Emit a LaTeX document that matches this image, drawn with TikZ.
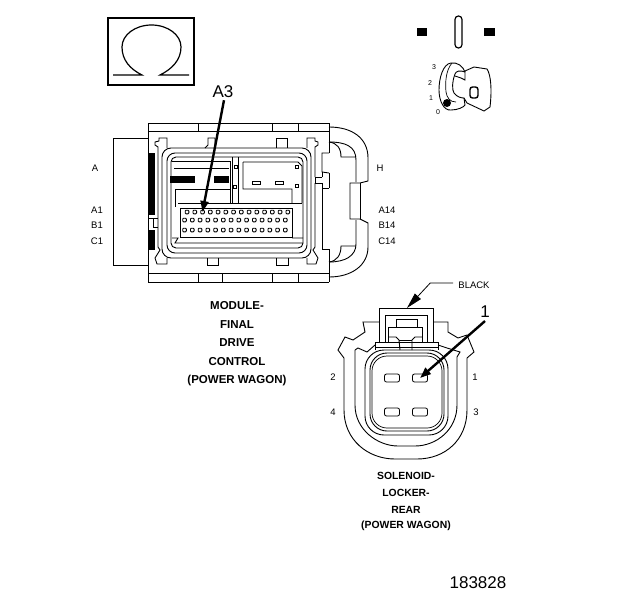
\documentclass[tikz,border=0pt]{standalone}
\usepackage{fontspec}
\setmainfont{Liberation Sans}
\usetikzlibrary{arrows.meta,positioning}

\begin{document}
\begin{tikzpicture}[
    x=1pt, y=-1pt,
    line/.style={draw, line width=0.9pt},
    thin line/.style={draw, line width=0.7pt},
    solid part/.style={fill=black, draw=none},
    pin label/.style={font=\fontsize{9.5}{11}\selectfont, inner sep=0pt},
    key label/.style={font=\fontsize{7}{8}\selectfont, inner sep=0pt},
    callout/.style={font=\fontsize{17}{19}\selectfont, inner sep=0pt},
    caption/.style={font=\fontsize{11.5}{13}\selectfont\bfseries, inner sep=0pt},
    small caption/.style={font=\fontsize{10.4}{12}\selectfont\bfseries, inner sep=0pt},
    pointer/.style={line width=2.4pt, -{Triangle[length=11pt,width=8pt]}},
    leader/.style={line width=0.8pt, -{Triangle[length=16pt,width=8pt]}},
    module pin/.style={draw, line width=0.9pt, rounded corners=0.8pt, minimum width=3.6pt, minimum height=3.6pt, inner sep=0pt},
    solenoid pin/.style={draw, line width=0.8pt, rounded corners=2pt, minimum width=15pt, minimum height=8pt, inner sep=0pt}
]
\useasboundingbox (0,0) rectangle (624,600);

% Ohm symbol box
\draw[line width=2pt] (108,18) rectangle (194,85);
\draw[line width=1.2pt] (113,75) -- (142,75) .. controls (130,69) and (122,60) .. (122,47)
    arc[start angle=180, end angle=360, x radius=29.5, y radius=22]
    .. controls (181,60) and (172,69) .. (160,75) -- (189,75);

% Key symbol
\fill[solid part] (417,28) rectangle (427,36);
\fill[solid part] (484,28) rectangle (495,36);
\draw[line width=1.2pt, rounded corners=3.4pt] (455,16) rectangle (462,48);
\draw[line] (465,72) .. controls (463,66) and (457,62) .. (451,63)
    .. controls (443,64) and (439,78) .. (439,90)
    .. controls (439,101) and (444,111) .. (451,110)
    .. controls (458,110) and (464,107) .. (465,105);
\draw[thin line] (452,63) .. controls (446,70) and (445,82) .. (446,92)
    .. controls (447,98) and (450,102) .. (456,102);
\draw[line] (465,72) .. controls (460,70) and (456,71) .. (455,74)
    .. controls (452,82) and (452,90) .. (454,93)
    .. controls (457,97) and (461,98) .. (464,98) -- (465,105);
\draw[line] (455,76) -- (461,78) -- (465,80) -- (465,71) -- (474,67) -- (487,69)
    .. controls (491,75) and (492,90) .. (490,107) -- (484,111) -- (467,103) -- (464,98);
\draw[line width=1.4pt, rounded corners=2.5pt] (470,87) rectangle (478,98);
\fill[solid part] (447,103) circle[radius=4];
\node[key label] (key3) at (434,67) {3};
\node[key label] (key2) at (430,83) {2};
\node[key label] (key1) at (431,98) {1};
\node[key label] (key0) at (438,112) {0};

% Module housing
\draw[line] (113,138) -- (148,138) (113,265) -- (148,265) (113,138) -- (113,265);
\draw[line] (148,123) -- (329,123) (148,282) -- (329,282) (148,123) -- (148,282) (329,123) -- (329,153);
\draw[line] (329,173) -- (329,188) (329,249) -- (329,282);
\draw[line] (148,131) -- (329,131) (198,123) -- (198,131) (272,123) -- (272,131) (298,123) -- (298,131);
\draw[line] (148,273) -- (329,273) (198,273) -- (198,282) (222,273) -- (222,282)
    (272,273) -- (272,282) (298,273) -- (298,282);
\fill[solid part] (148,153) rectangle (155,215);
\fill[solid part] (148,230) rectangle (155,250);
\draw[line] (148,218) -- (153,218) -- (153,227) -- (158,227) (153,218) -- (158,218);

% Right side loop
\draw[line] (329,127) .. controls (352,127) and (368,138) .. (368,158) -- (368,181)
    -- (360,183) -- (350,183) -- (350,219) -- (360,219) -- (368,223) -- (368,247)
    .. controls (368,265) and (352,277) .. (329,277);
\draw[line] (360,183) -- (360,219);
\draw[line] (329,142) .. controls (345,142) and (356,146) .. (356,160) -- (356,182);
\draw[line] (356,220) -- (356,244) .. controls (356,256) and (345,262) .. (329,262);
\draw[line] (329,142) .. controls (337,143) and (341,148) .. (341,157) -- (356,157);
\draw[line] (329,262) .. controls (337,261) and (341,255) .. (341,246) -- (356,246);
\draw[line] (329,153) -- (322,153) -- (322,172) -- (329,173);
\draw[line] (329,188) -- (322,188) -- (322,249) -- (329,249);
\draw[line] (322,177) -- (315,177) -- (315,183) -- (322,183) -- (322,188);
\draw[line] (322,172) -- (322,177);

% Inner frame
\draw[line, rounded corners=9pt] (162,148) rectangle (311,258);
\draw[line, rounded corners=8pt] (167,153) rectangle (307,253);
\draw[line, rounded corners=5pt] (171,157) rectangle (303,248);
\draw[line] (167,148) -- (167,138) -- (159,138) -- (159,141) -- (155,142) -- (155,145) -- (158,147) -- (158,247)
    -- (160,250) -- (155,258) -- (157,264) -- (167,264) -- (167,258);
\draw[line] (307,148) -- (307,138) -- (315,138) -- (315,141) -- (318,142) -- (318,145) -- (315,147) -- (315,177);
\draw[line] (315,183) -- (315,247) -- (313,250) -- (318,258) -- (316,264) -- (307,264) -- (307,258);
\draw[line] (205,148) -- (208,145) -- (208,138) -- (215,138) -- (215,148);
\draw[line] (276,148) -- (276,138) -- (287,138) -- (287,148);
\draw[line] (207,258) -- (207,265) -- (218,265) -- (218,258);
\draw[line] (276,258) -- (276,265) -- (288,265) -- (288,258);

% Upper compartments
\draw[line] (172,161) -- (230,161) -- (230,203) (174,168) -- (229,168) (175,189) -- (175,207);
\draw[line] (176,189) -- (231,189);
\draw[line] (232,157) -- (232,203) (238,157) -- (238,203);
\draw[line] (243,162) -- (298,162) -- (302,166) -- (302,203) (243,162) -- (243,189) -- (292,189) -- (292,203);
\fill[solid part] (170,176) rectangle (195,183);
\fill[solid part] (214,176) rectangle (229,183);
\draw[line] (234,165) rectangle (237,168) (233,185) rectangle (236,188);
\draw[line] (252,181) rectangle (260,184) (275,181) rectangle (283,184);
\draw[line] (295,165) rectangle (298,168) (295,184) rectangle (298,187);

% Terminal block
\draw[line] (178,203) -- (302,203) (180,208) -- (292,208) -- (292,237) -- (180,237) -- cycle;
\draw[line] (172,238) -- (178,238) -- (175,243) -- (303,243) (292,238) -- (303,238);
\foreach \col in {0,...,13}{
    \node[module pin] (pin1-\col) at ({187+\col*7.75},212) {};
    \node[module pin] (pin2-\col) at ({184.5+\col*7.75},220) {};
    \node[module pin] (pin3-\col) at ({184.5+\col*7.75},230) {};
}

% Module labels
\node[pin label] (labelA) at (95,168) {A};
\node[pin label] (labelAone) at (97,210) {A1};
\node[pin label] (labelBone) at (97,225) {B1};
\node[pin label] (labelCone) at (97,241) {C1};
\node[pin label] (labelH) at (380,168) {H};
\node[pin label] (labelAfourteen) at (387,210) {A14};
\node[pin label] (labelBfourteen) at (387,225) {B14};
\node[pin label] (labelCfourteen) at (387,241) {C14};
\node[callout] (labelAthree) at (223,92) {A3};
\draw[pointer] (labelAthree.south) ++(1,2) -- (pin1-2.center);

\node[caption] (moduleCapA) at (237,306) {MODULE-};
\node[caption] (moduleCapB) at (237,325) {FINAL};
\node[caption] (moduleCapC) at (237,343) {DRIVE};
\node[caption] (moduleCapD) at (237,362) {CONTROL};
\node[caption] (moduleCapE) at (237,381) {(POWER WAGON)};

% Solenoid connector
\draw[line] (344,358) -- (344,410) .. controls (344,440) and (368,459) .. (395,459) -- (417,459)
    .. controls (445,459) and (467,440) .. (467,410) -- (467,358);
\draw[line] (355,350) -- (355,405) .. controls (355,430) and (378,446) .. (398,446) -- (415,446)
    .. controls (436,446) and (457,430) .. (457,405) -- (457,357);
\draw[line] (344,358) -- (338,350) -- (345,337) -- (353,340) -- (365,332) -- (363,322) -- (379,322);
\draw[line] (355,350) -- (358,348) -- (367,352) -- (375,345);
\draw[line] (467,358) -- (474,352) -- (467,335) -- (458,338) -- (448,332) -- (448,322) -- (433,322);
\draw[line] (457,357) -- (460,352) -- (447,348) -- (438,345);
\draw[line, rounded corners=19pt] (365,350) rectangle (448,435);
\draw[line, rounded corners=17pt] (370,353) rectangle (444,431);
\draw[thin line, rounded corners=15pt] (372,356) rectangle (442,428);
\draw[line] (379,343) -- (379,308) -- (433,308) -- (433,343);
\draw[line] (385,342) -- (385,315) -- (427,315) -- (427,342);
\draw[line] (396,327) -- (396,319) -- (417,319) -- (417,327);
\draw[line] (388,342) -- (388,327) -- (422,327) -- (422,342);
\draw[line] (388,337) -- (396,337) -- (399,340) -- (400,350);
\draw[line] (422,337) -- (415,337) -- (412,340) -- (412,350);
\draw[line] (375,350) -- (375,342) -- (438,342) -- (438,350);
\draw[line] (375,347) -- (438,347);
\draw[line] (399,340) -- (412,340);
\node[solenoid pin] (solA) at (392,378) {};
\node[solenoid pin] (solB) at (420,378) {};
\node[solenoid pin] (solC) at (392,412) {};
\node[solenoid pin] (solD) at (420,412) {};

% Solenoid labels
\node[pin label] (labelTwo) at (333,377) {2};
\node[pin label] (labelOne) at (475,377) {1};
\node[pin label] (labelFour) at (333,412) {4};
\node[pin label] (labelThree) at (476,412) {3};
\node[pin label] (labelBlack) at (474,285) {BLACK};
\coordinate (blackTip) at (407,308);
\draw[leader] (labelBlack.west) ++(-5,-2) -- ++(-23,0) -- (blackTip);
\node[callout] (labelPin) at (485,312) {1};
\draw[pointer] (labelPin.south) ++(0,3) -- (solB.center);

\node[small caption] (solenoidCapA) at (406,476) {SOLENOID-};
\node[small caption] (solenoidCapB) at (406,493) {LOCKER-};
\node[small caption] (solenoidCapC) at (406,510) {REAR};
\node[small caption] (solenoidCapD) at (406,526) {(POWER WAGON)};

\node[callout] (figNumber) at (478,583) {183828};

\end{tikzpicture}
\end{document}
